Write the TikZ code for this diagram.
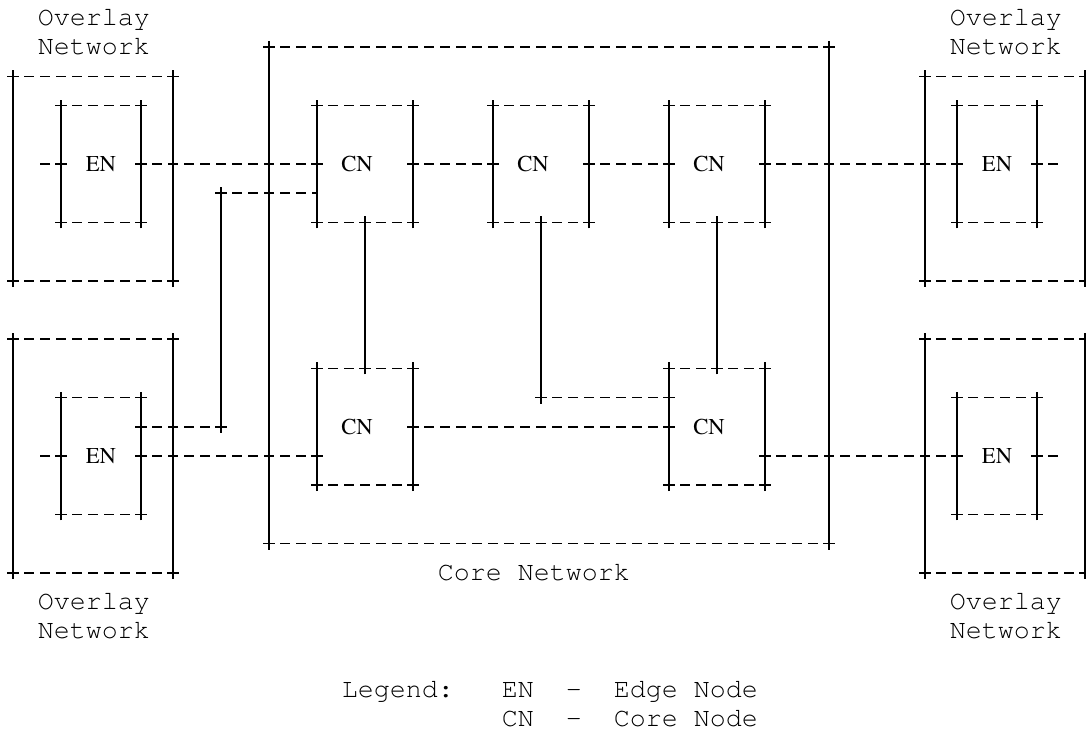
\documentclass[tikz,border=0pt]{standalone}
\usepackage[T1]{fontenc}
\usepackage{times}
\usetikzlibrary{positioning}
\tikzstyle{hl} = [dash pattern=on 7.5pt off 4.5pt, dash phase=3.75pt]
\tikzstyle{blk} = [rectangle, inner sep=0pt, outer sep=0pt]
\tikzstyle{ov} = [blk, minimum width=120pt, minimum height=153.3pt]
\tikzstyle{ovl} = [blk, minimum width=120pt, minimum height=175.2pt]
\tikzstyle{core} = [blk, minimum width=420pt, minimum height=372.3pt]
\tikzstyle{en} = [blk, minimum width=60pt, minimum height=87.6pt, font=\fontsize{17}{20}\selectfont\rmfamily]
\tikzstyle{cn} = [blk, minimum width=72pt, minimum height=87.6pt]
\tikzstyle{cnl} = [inner sep=0pt, xshift=-6pt, font=\fontsize{17}{20}\selectfont\rmfamily]
\tikzstyle{txt} = [anchor=base west, inner sep=0pt, yshift=-5.6pt, font=\fontsize{20}{24}\selectfont\ttfamily]
% a "+" mark at a point
\newcommand{\pl}[1]{\draw (#1) +(-4.5pt,0) -- +(4.5pt,0) +(0,-4.5pt) -- +(0,4.5pt);}
\newcommand{\asciibox}[1]{%
  \draw[hl] (#1.north west) -- (#1.north east);
  \draw[hl] (#1.south west) -- (#1.south east);
  \draw (#1.north west) -- (#1.south west);
  \draw (#1.north east) -- (#1.south east);
  \pl{#1.north west}\pl{#1.north east}\pl{#1.south west}\pl{#1.south east}}

\begin{document}
\begin{tikzpicture}[x=12pt, y=-21.9pt, line width=1.2pt]
\useasboundingbox (-0.8125,-0.6164) rectangle (67.0625,24.4863);
% overlay networks and core network
\node[ov] (ov1) at (5,5.5) {};
\node[ovl] (ov2) at (5,15) {};
\node[ov] (ov3) at (62,5.5) {};
\node[ovl] (ov4) at (62,15) {};
\node[core] (core) at (33.5,9.5) {};
% edge nodes
\node[en] (en1) at (5.5,5) {EN};
\node[en] (en2) at (5.5,15) {EN};
\node[en] (en3) at (61.5,5) {EN};
\node[en] (en4) at (61.5,15) {EN};
% core nodes
\node[cn, label={[cnl]center:CN}] (cn1) at (22,5) {};
\node[cn, label={[cnl]center:CN}] (cn2) at (33,5) {};
\node[cn, label={[cnl]center:CN}] (cn3) at (44,5) {};
\node[cn, label={[cnl]center:CN}] (cn4) at (22,14) {};
\node[cn, label={[cnl]center:CN}] (cn5) at (44,14) {};
\foreach \b in {ov1,ov2,ov3,ov4,core,en1,en2,en3,en4,cn1,cn2,cn3,cn4,cn5} {\asciibox{\b}}

% links
\coordinate (s1) at (1.6875,5);
\coordinate (s2) at (1.6875,15);
\coordinate (s3) at (65.3125,5);
\coordinate (s4) at (65.3125,15);
\coordinate (j1) at (13,14);
\coordinate (j2) at (13,6);
\coordinate (j3) at (33,13);
\coordinate (e1) at (en2.east |- j1);
\coordinate (e2) at (cn4.west |- en2.east);
\coordinate (e3) at (cn5.east |- en4.west);
\coordinate (e4) at (cn5.west |- j3);
\draw[hl] (en1.west) -- (s1);
\draw[hl] (en2.west) -- (s2);
\draw[hl] (en3.east) -- (s3);
\draw[hl] (en4.east) -- (s4);
\draw[hl] (en1.east) -- (cn1.west);
\draw[hl] (cn1.east) -- (cn2.west);
\draw[hl] (cn2.east) -- (cn3.west);
\draw[hl] (cn3.east) -- (en3.west);
\draw[hl] (en2.east) -- (e2);
\draw[hl] (cn4.east) -- (cn5.west);
\draw[hl] (e3) -- (en4.west);
\draw[hl] (e1) -- (j1);
\draw (j1) -- (j2);
\draw[hl] (j2) -- (cn1.west |- j2);
\draw (cn1.south) -- (cn4.north);
\draw (cn3.south) -- (cn5.north);
\draw (cn2.south) -- (j3);
\draw[hl] (j3) -- (e4);
\foreach \p in {en1.east, en1.west, en2.east, en2.west, en3.east, en3.west, en4.east, en4.west,
  cn1.east, cn1.west, cn2.east, cn2.west, cn3.east, cn3.west, cn4.east, cn5.west,
  cn1.south, cn2.south, cn3.south, cn4.north, cn5.north, j1, j2, j3, e1, e2, e3, e4} {\pl{\p}}

% labels
\node[txt] (ovt1) at (1.5,0) {Overlay};
\node[txt] (ovn1) at (1.5,1) {Network};
\node[txt] (ovt3) at (58.5,0) {Overlay};
\node[txt] (ovn3) at (58.5,1) {Network};
\node[txt] (ovt2) at (1.5,20) {Overlay};
\node[txt] (ovn2) at (1.5,21) {Network};
\node[txt] (ovt4) at (58.5,20) {Overlay};
\node[txt] (ovn4) at (58.5,21) {Network};
\node[txt] (coret) at (26.5,19) {Core Network};
\node[txt] (leg1) at (20.5,23) {Legend:~~~EN~~-~~Edge~Node};
\node[txt] (leg2) at (30.5,24) {CN~~-~~Core~Node};
\end{tikzpicture}
\end{document}
